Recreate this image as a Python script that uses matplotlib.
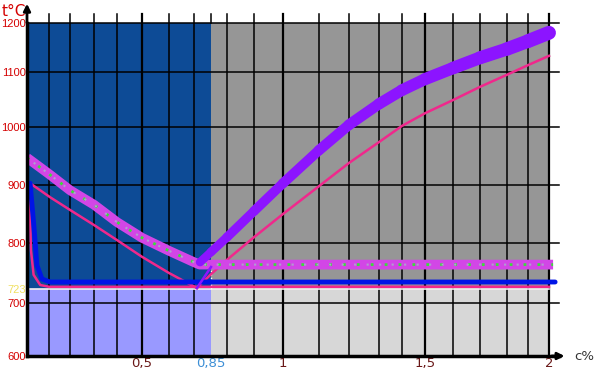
import numpy as np
import matplotlib
matplotlib.use("Agg")
import matplotlib.pyplot as plt
from matplotlib.collections import LineCollection

# ---- data (c %, t °C) ----
# Acm line (thick violet)
acm_c = [0.753, 0.85, 0.9, 0.95, 1.0, 1.1, 1.2, 1.3, 1.4, 1.5, 1.6, 1.7, 1.8, 1.9, 2.0]
acm_t = [768, 785, 810, 855, 903, 960, 1004, 1042, 1067, 1087, 1108, 1129, 1147, 1163, 1180]
# thin pink line, right branch
pink_r_c = [0.726, 0.85, 0.9, 0.95, 1.0, 1.1, 1.2, 1.3, 1.4, 1.5, 1.6, 1.7, 1.8, 1.9, 2.0]
pink_r_t = [725, 748, 772, 810, 850, 898, 938, 974, 1002, 1025, 1049, 1073, 1095, 1114, 1133]
# thin pink line, left branch
pink_l_c = [0.014, 0.105, 0.2, 0.3, 0.4, 0.5, 0.6, 0.68, 0.726]
pink_l_t = [903, 879, 857, 831, 805, 777, 750, 732, 725]
# thin pink line, left drop and 727 level
pink_h_c = [0.01, 0.018, 0.03, 0.06, 0.1, 2.0]
pink_h_t = [900, 788, 747, 730, 727, 727]
# thick blue line
blue_c = [0.014, 0.032, 0.045, 0.068, 0.105, 2.03]
blue_t = [903, 826, 763, 740, 735, 735]
# speckled band
band_c = [0.0, 0.1, 0.2, 0.3, 0.4, 0.5, 0.6, 0.7, 0.75, 2.02]
band_t = [947, 919, 891, 866, 836, 809, 787, 768, 764, 764]
# thin violet link to eutectoid point
link_c = [0.85, 0.726]
link_t = [760, 725]

t_a1 = 723
c_s = 0.85
xtick_vals = [0.5, 0.85, 1, 1.5, 2]
xtick_labels = ["0,5", "0,85", "1", "1,5", "2"]
xtick_colors = ["#6a1818", "#3d8fd6", "#6a1818", "#6a1818", "#6a1818"]
ytick_vals = [600, 700, 723, 800, 900, 1000, 1100, 1200]
ytick_labels = ["600", "700", "723", "800", "900", "1000", "1100", "1200"]
ytick_colors = ["#d40000"] * 2 + ["#f0e060"] + ["#d40000"] * 5
vgrid = [0.1, 0.2, 0.3, 0.4, 0.5, 0.6, 0.7, 0.9, 0.95, 1.0, 1.1, 1.2, 1.3, 1.4,
         1.5, 1.6, 1.7, 1.8, 1.9, 2.0]
hgrid = [700, 800, 900, 1000, 1100, 1200]

# ---- hand-drawn (uneven) axis layout, pixel knots ----
XK = [0, 0.1, 0.2, 0.3, 0.4, 0.5, 0.6, 0.7, 0.85, 0.9, 0.95, 1.0, 1.1, 1.2, 1.3,
      1.4, 1.5, 1.6, 1.7, 1.8, 1.9, 2.0, 2.25]
XP = [27, 49, 70, 94, 117, 142, 169, 194, 211, 227, 254, 283, 319, 349, 379,
      402, 425, 453, 480, 507, 528, 549, 600]
YK = [600, 700, 800, 900, 1000, 1100, 1200, 1250]
YP = [19, 72, 132, 190, 248, 303, 352, 375]

fx = (lambda v: np.interp(v, XK, XP), lambda u: np.interp(u, XP, XK))
fy = (lambda v: np.interp(v, YK, YP), lambda u: np.interp(u, YP, YK))

fig = plt.figure(figsize=(6, 3.75), dpi=100)
ax = fig.add_axes([27 / 600, 19 / 375, 573 / 600, 356 / 375])
ax.set_xscale("function", functions=fx)
ax.set_yscale("function", functions=fy)
ax.set_xlim(0, 2.25)
ax.set_ylim(600, 1250)
for s in ax.spines.values():
    s.set_visible(False)

# regions
ax.fill_between([0, c_s], t_a1, 1200, color="#0d4b96", lw=0)
ax.fill_between([0, c_s], 600, t_a1, color="#9999ff", lw=0)
ax.fill_between([c_s, 2], t_a1, 1200, color="#969696", lw=0)
ax.fill_between([c_s, 2], 600, t_a1, color="#d7d7d7", lw=0)

# grid
for c in vgrid:
    lw = 1.6 if c in (0.5, 1.0, 1.5, 2.0) else 1.1
    ax.plot([c, c], [600, 1220], color="black", lw=lw, clip_on=False)
ax.plot([c_s, c_s], [1200, 1220], color="black", lw=1.1, clip_on=False)
for t in hgrid:
    ax.plot([0, 2.05], [t, t], color="black", lw=1.1, clip_on=False)
ax.plot([0, 2], [t_a1, t_a1], color="#f4f0f0", lw=1.2)
ax.plot([c_s, c_s], [t_a1, 765], color="white", lw=1, ls=(0, (1, 1.5)))

# lines
ax.plot(pink_h_c, pink_h_t, color="#f0288c", lw=1.8)
ax.plot(pink_l_c, pink_l_t, color="#f0288c", lw=1.8)
ax.plot(pink_r_c, pink_r_t, color="#f0288c", lw=1.8)
ax.plot(blue_c, blue_t, color="#0014e6", lw=3.5, solid_capstyle="round")
ax.plot(band_c, band_t, color="#d246e6", lw=7, solid_capstyle="butt")
ax.plot(band_c, band_t, color="#3cdc3c", lw=2, ls=(0, (1, 4)))
ax.plot(band_c, band_t, color="#b0a0d0", lw=1.5, ls=(2, (1, 5)))
ax.plot(link_c, link_t, color="#8c14ff", lw=1.8)
pts = np.column_stack([acm_c, acm_t])
segs = np.stack([pts[:-1], pts[1:]], axis=1)
acm = LineCollection(segs, colors="#8c14ff",
                     linewidths=np.linspace(6, 10, len(segs)), capstyle="round")
ax.add_collection(acm)

# axes with arrows
ax.plot([0, 0], [600, 1200], color="black", lw=2.5, clip_on=False)
ax.plot([0, 2.05], [600, 600], color="black", lw=2.5, clip_on=False)
ax.annotate("", xy=(0, 1248), xytext=(0, 1195),
            arrowprops=dict(arrowstyle="-|>", color="black", lw=2,
                            mutation_scale=10), annotation_clip=False)
ax.annotate("", xy=(2.09, 600), xytext=(2.0, 600),
            arrowprops=dict(arrowstyle="-|>", color="black", lw=2,
                            mutation_scale=10), annotation_clip=False)

# ticks
ax.set_xticks(xtick_vals)
ax.set_xticklabels(xtick_labels, fontsize=9.5)
for lab, col in zip(ax.get_xticklabels(), xtick_colors):
    lab.set_color(col)
ax.set_yticks(ytick_vals)
ax.set_yticklabels(ytick_labels, fontsize=8, family="Liberation Sans")
for lab, col in zip(ax.get_yticklabels(), ytick_colors):
    lab.set_color(col)
ax.tick_params(length=0, pad=1)

fig.text(2 / 600, 1 - 11 / 375, "t°C", color="#d40000", fontsize=11,
         va="center", ha="left")
ax.text(2.125, 600, "c%", color="#333333", fontsize=9.5, va="center",
        ha="left", clip_on=False)

plt.savefig("out.png", dpi=100)
